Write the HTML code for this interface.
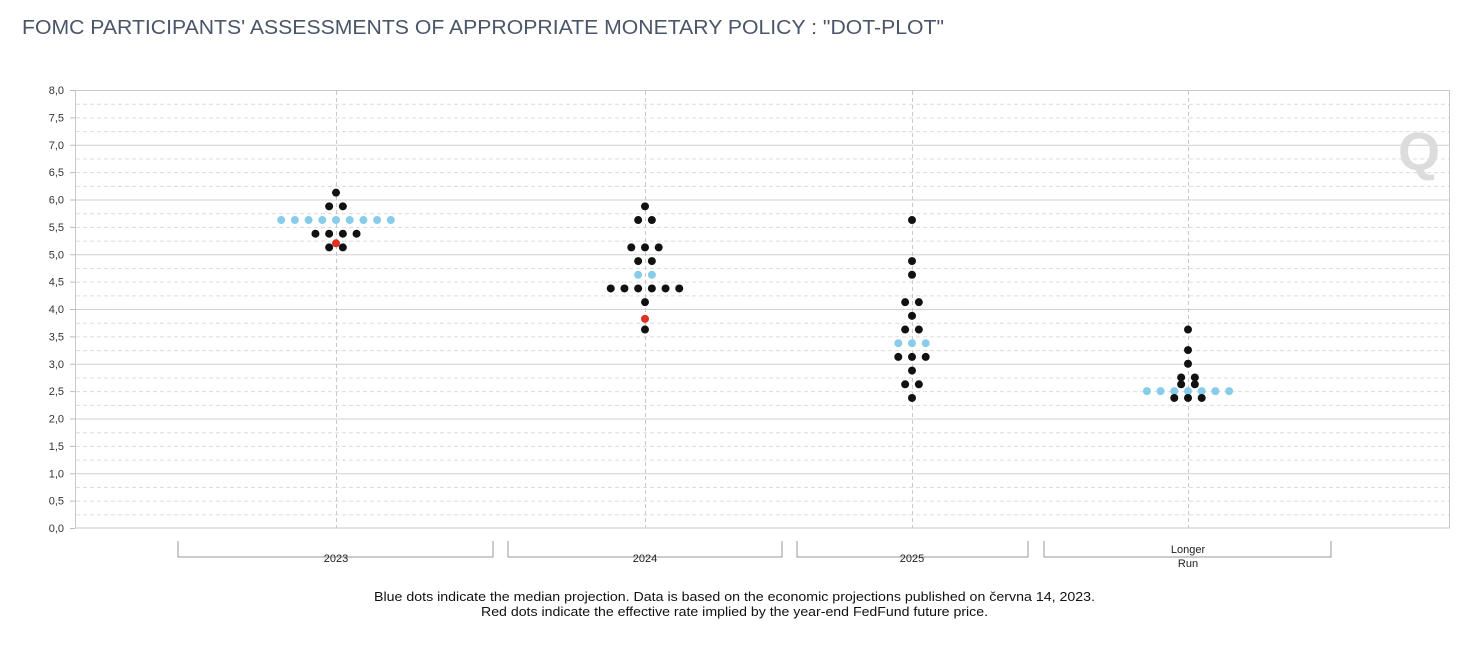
<!DOCTYPE html>
<html><head><meta charset="utf-8"><style>
body{margin:0;background:#fff;width:1474px;height:650px;overflow:hidden;font-family:"Liberation Sans",sans-serif}
</style></head><body>
<svg width="1474" height="650" xmlns="http://www.w3.org/2000/svg" font-family="Liberation Sans, sans-serif">
<text x="22" y="34" font-size="20" fill="#4a5568" textLength="922" lengthAdjust="spacingAndGlyphs">FOMC PARTICIPANTS' ASSESSMENTS OF APPROPRIATE MONETARY POLICY : "DOT-PLOT"</text>
<g id="grid"></g>
<rect x="75.5" y="90.5" width="1374" height="437.5" fill="none" stroke="#c8c8c8"/>
<g id="labels" font-size="11" fill="#333" text-anchor="end"></g>
<g id="dots"></g>
<g stroke="#999" fill="none">
<path d="M178 541v16h315v-16M508 541v16h274v-16M797 541v16h231v-16M1044 541v16h287v-16"/>
</g>
<g font-size="11" fill="#222" text-anchor="middle">
<text x="336" y="562">2023</text><text x="645" y="562">2024</text><text x="912" y="562">2025</text>
<text x="1188" y="553">Longer</text><text x="1188" y="567">Run</text>
</g>
<g font-size="13" fill="#111">
<text x="374" y="601" textLength="721" lengthAdjust="spacingAndGlyphs">Blue dots indicate the median projection. Data is based on the economic projections published on června 14, 2023.</text>
<text x="481" y="616" textLength="507" lengthAdjust="spacingAndGlyphs">Red dots indicate the effective rate implied by the year-end FedFund future price.</text>
</g>
<text x="1398" y="170" font-size="54" font-weight="bold" fill="#dcdcdc">Q</text>
</svg>
<script>
const ns="http://www.w3.org/2000/svg";
const Y=v=>528-v*54.75;
const g=document.getElementById('grid'),lb=document.getElementById('labels'),d=document.getElementById('dots');
function el(p,t,a){const e=document.createElementNS(ns,t);for(const k in a)e.setAttribute(k,a[k]);p.appendChild(e);return e;}
for(let i=1;i<32;i++){const v=i*0.25,y=Y(v)+0.5;
 el(g,'line',{x1:76,x2:1449,y1:y,y2:y,stroke:i%4==0?'#d0d0d0':'#dcdcdc','stroke-dasharray':i%4==0?'':'4,3'});}
for(let i=0;i<=16;i++){const v=i*0.5;const t=el(lb,'text',{x:64,y:Y(v)+4});t.textContent=v.toFixed(1).replace('.',',');
 el(g,'line',{x1:70,x2:75,y1:Y(v)+0.5,y2:Y(v)+0.5,stroke:'#bbb'});}
[336,645,912,1188].forEach(x=>el(g,'line',{x1:x+0.5,x2:x+0.5,y1:91,y2:528,stroke:'#c8c8c8','stroke-dasharray':'4,3'}));
const S=13.7;
function row(cx,v,n,col,step){step=step||S;for(let i=0;i<n;i++){el(d,'circle',{cx:cx+(i-(n-1)/2)*step,cy:Y(v),r:4,fill:col});}}
const B='#111',L='#87cdea',R='#e03020';
row(336,6.125,1,B);row(336,5.875,2,B);row(336,5.625,9,L);row(336,5.375,4,B);row(336,5.125,2,B);row(336,5.2,1,R);
row(645,5.875,1,B);row(645,5.625,2,B);row(645,5.125,3,B);row(645,4.875,2,B);row(645,4.625,2,L);row(645,4.375,6,B);row(645,4.125,1,B);row(645,3.82,1,R);row(645,3.625,1,B);
row(912,5.625,1,B);row(912,4.875,1,B);row(912,4.625,1,B);row(912,4.125,2,B);row(912,3.875,1,B);row(912,3.625,2,B);row(912,3.375,3,L);row(912,3.125,3,B);row(912,2.875,1,B);row(912,2.625,2,B);row(912,2.375,1,B);
row(1188,3.625,1,B);row(1188,3.25,1,B);row(1188,3.0,1,B);row(1188,2.75,2,B);row(1188,2.625,2,B);row(1188,2.5,7,L);row(1188,2.375,3,B);
</script>
</body></html>
